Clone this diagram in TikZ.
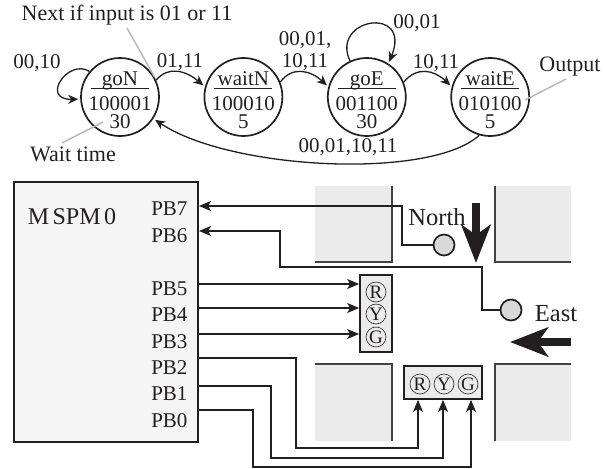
\documentclass[tikz,border=0pt]{standalone}
\usepackage{fontspec}
\setmainfont{Liberation Serif}
\usetikzlibrary{arrows.meta,positioning}
\definecolor{ink}{HTML}{231F20}
\newcommand{\stateface}[3]{#1\\[3pt]\makebox[0pt]{#2}\makebox[0pt]{\raisebox{21.9pt}[0pt][0pt]{\rule{58pt}{1.3pt}}}\\[-4pt]#3}
\tikzset{
  arc/.style={draw= ink, line width= 1.3pt, shorten >= 2pt, -{Stealth[length= 10pt,width= 9pt,inset= 3pt]}},
  wire/.style={draw= ink, line width= 1.3pt},
  wirein/.style={wire, -{Stealth[length= 12pt,width= 10pt,inset= 3pt]}},
  callout/.style={draw= black!28, line width= 1.5pt},
  block/.style={fill= black!8},
  curb/.style={draw= ink!85, line width= 1.3pt},
  flow/.style={draw= ink, line width= 8.5pt, -{Stealth[length= 38pt,width= 29pt,inset= 10pt]}},
  bigtext/.style={font= \fontsize{24.5}{25}\selectfont},
  notetext/.style={font= \fontsize{22}{22}\selectfont},
}
\begin{document}
\begin{tikzpicture}[x= 1pt,y= -1pt,font= \fontsize{21}{22}\selectfont,text= ink]
      \useasboundingbox (0,0) rectangle (606,469);
      % state machine
      \begin{scope}[node distance= 123.4pt,every node/.style={circle,draw= ink,line width= 1.7pt,minimum size= 78pt,inner sep= 0pt}]
        \node (goN) at (120,97) {};
        \node (waitN) [right of= goN] {};
        \node (goE) [right of= waitN] {};
        \node (waitE) [right of= goE] {};
      \end{scope}
      \begin{scope}[every node/.style={align= center,inner sep= 0pt,yshift= -3.5pt}]
        \node (goNtext) at (goN) {\stateface{goN}{100001}{30}};
        \node (waitNtext) at (waitN) {\stateface{waitN}{100010}{5}};
        \node (goEtext) at (goE) {\stateface{goE}{001100}{30}};
        \node (waitEtext) at (waitE) {\stateface{waitE}{010100}{5}};
      \end{scope}
      \path[arc] (goN.140) .. controls (68,58) and (40,100) .. (goN.183);
      \path[arc] (goN.25) .. controls (168,66) and (185,70) .. (waitN.165);
      \path[arc] (waitN.22) .. controls (292,66) and (310,70) .. (goE.165);
      \path[arc] (goE.22) .. controls (417,66) and (434,70) .. (waitE.165);
      \path[arc] (goE.115) .. controls (330,18) and (412,5) .. (goE.57);
      \path[arc] (waitE.254) .. controls (430,180) and (230,170) .. (goN.-33);
      % edge labels
      \node (lblA) at (37,63) {00,10};
      \node (lblB) at (180,62) {01,11};
      \node (lblC) [align= center] at (305,51) {00,01,\\10,11};
      \node (lblD) at (417,23) {00,01};
      \node (lblE) at (436,63) {10,11};
      \node (lblF) at (348,147) {00,01,10,11};
      % callouts
      \node (nextlbl) [notetext] at (127,15) {Next if input is 01 or 11};
      \node (waitlbl) [notetext] at (73,154) {Wait time};
      \node (outlbl) [notetext] at (570,67) {Output};
      \coordinate (goNtime) at (103,122);
      \coordinate (waitEout) at (525,100);
      \path[callout] (127,28) -- (goN.30);
      \path[callout] (62,143) -- (goNtime);
      \path[callout] (566,79) -- (waitEout);
      % intersection
      \fill[block] (315,186) rectangle (392,262);
      \fill[block] (495,186) rectangle (571,262);
      \fill[block] (315,364) rectangle (392,441);
      \fill[block] (495,364) rectangle (571,441);
      \path[curb] (392,186) -- (392,262) -- (315,262);
      \path[curb] (495,186) -- (495,262) -- (571,262);
      \path[curb] (392,441) -- (392,364) -- (315,364);
      \path[curb] (495,441) -- (495,364) -- (571,364);
      \path[flow] (476,203) -- (476,263);
      \path[flow] (571,342) -- (510,342);
      \node (north) [bigtext] at (437,217) {North};
      \node (east) [bigtext] at (556,314) {East};
      % microcontroller
      \node (mcu) [draw= ink,line width= 1.7pt,fill= black!4,minimum width= 184pt,minimum height= 260pt,inner sep= 0pt] at (106,312) {};
      \node (mcuname) [font= \fontsize{24}{24}\selectfont] at (72,217) {M\kern3.5pt SPM\kern3.5pt 0};
      \begin{scope}[every node/.style={anchor= east}]
        \node (PB7) at (191,209) {PB7};
        \node (PB6) at (191,236) {PB6};
        \node (PB5) at (191,289) {PB5};
        \node (PB4) at (191,315) {PB4};
        \node (PB3) at (191,342) {PB3};
        \node (PB2) at (191,368) {PB2};
        \node (PB1) at (191,394) {PB1};
        \node (PB0) at (191,421) {PB0};
      \end{scope}
      \coordinate (pb7) at (199,206);
      \coordinate (pb6) at (199,231);
      \coordinate (pb5) at (198,284);
      \coordinate (pb4) at (198,308);
      \coordinate (pb3) at (198,334);
      \coordinate (pb2) at (198,358);
      \coordinate (pb1) at (198,386);
      \coordinate (pb0) at (198,410);
      % LED boxes
      \node (ewbox) [draw= ink,line width= 1.7pt,fill= black!8,minimum width= 32pt,minimum height= 77pt,inner sep= 0pt] at (376,313.5) {};
      \node (nsbox) [draw= ink,line width= 1.7pt,fill= black!8,minimum width= 78pt,minimum height= 33pt,inner sep= 0pt] at (443,382.5) {};
      \begin{scope}[every node/.style={circle,draw= ink,line width= 0.6pt,minimum size= 20pt,inner sep= 0pt,font= \fontsize{19}{19}\selectfont}]
        \node (ewR) at (376,292) {R};
        \node (ewY) at (376,314) {Y};
        \node (ewG) at (376,337) {G};
        \node (nsR) at (420,384) {R};
        \node (nsY) at (444,384) {Y};
        \node (nsG) at (468,384) {G};
      \end{scope}
      % sensors
      \begin{scope}[every node/.style={circle,draw= ink,line width= 1.7pt,fill= black!15,minimum size= 21pt,inner sep= 0pt}]
        \node (sensN) at (444,245) {};
        \node (sensE) at (511,310) {};
      \end{scope}
      % wires
      \path[wirein] (sensN.west) -| (402,206) -- (pb7);
      \path[wirein] (sensE.west) -| (482,267) -| (280,231) -- (pb6);
      \path[wirein] (pb5) -- (ewbox.west |- pb5);
      \path[wirein] (pb4) -- (ewbox.west |- pb4);
      \path[wirein] (pb3) -- (ewbox.west |- pb3);
      \path[wirein] (pb2) -| (296,448) -| ([xshift= -2pt]nsR.center |- nsbox.south);
      \path[wirein] (pb1) -| (271,458) -| ([xshift= -1pt]nsY.center |- nsbox.south);
      \path[wirein] (pb0) -| (253,467) -| ([xshift= 3pt]nsG.center |- nsbox.south);
    \end{tikzpicture}
\end{document}
